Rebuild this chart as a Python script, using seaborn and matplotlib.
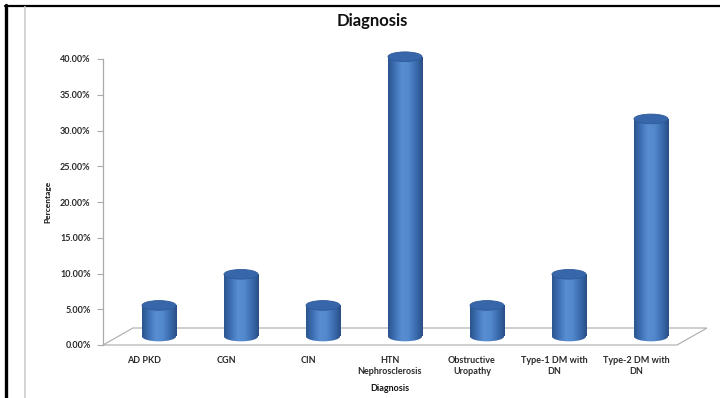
import numpy as np
import pandas as pd
import matplotlib
matplotlib.use("Agg")
import matplotlib.pyplot as plt
import matplotlib.transforms as mtrans
from matplotlib.patches import Ellipse, Polygon
from matplotlib.lines import Line2D
from matplotlib.colors import LinearSegmentedColormap
from matplotlib.ticker import PercentFormatter
import seaborn as sns

# Diagnosis categories and share of patients (%)
categories = ["AD PKD", "CGN", "CIN", "HTN\nNephrosclerosis",
              "Obstructive\nUropathy", "Type-1 DM with\nDN", "Type-2 DM with\nDN"]
percentages = [4.35, 8.70, 4.35, 39.13, 4.35, 8.70, 30.43]
y_ticks = [0, 5, 10, 15, 20, 25, 30, 35, 40]

sns.set_theme(style="white")
plt.rcParams["font.family"] = ["Lato", "DejaVu Sans"]

W, H = 720, 398
fig = plt.figure(figsize=(W / 100, H / 100), dpi=100)
fig.patch.set_facecolor("white")
ax = fig.add_axes([103 / W, 53 / H, 574 / W, 286 / H])

df = pd.DataFrame({"Diagnosis": categories, "Percentage": percentages})
bar_w = 0.415
sns.barplot(data=df, x="Diagnosis", y="Percentage", ax=ax, color="#4F81BD",
            width=bar_w, saturation=1, errorbar=None, zorder=3)
ax.set_xlim(-0.5, 6.5)
ax.set_ylim(0, 40)

# cylinders sit half-way back on the floor
shift = mtrans.offset_copy(ax.transData, fig=fig, x=15, y=8.5, units="dots")
body_cmap = LinearSegmentedColormap.from_list(
    "cyl", ["#2B558F", "#3F72B6", "#5A8ED2", "#5288CC", "#3C6DB0", "#2A4F86"])
grad = np.linspace(0, 1, 64).reshape(1, -1)
ell_h = 1.35

for patch in list(ax.patches):
    x0 = patch.get_x()
    w = patch.get_width()
    h = patch.get_height()
    cx = x0 + w / 2
    patch.set_transform(shift)
    patch.set_facecolor("none")
    patch.set_edgecolor("none")
    patch.set_clip_on(False)
    # cylinder body
    im = ax.imshow(grad, cmap=body_cmap, aspect="auto", extent=(x0, x0 + w, 0, h),
                   transform=shift, zorder=3, interpolation="bilinear")
    im.set_clip_box(None)
    im.set_clip_path(patch)
    # rounded base
    base = Ellipse((cx, 0), w, ell_h, transform=shift, facecolor="none",
                   edgecolor="none", zorder=3, clip_on=False)
    ax.add_patch(base)
    im2 = ax.imshow(grad, cmap=body_cmap, aspect="auto",
                    extent=(x0, x0 + w, -ell_h, ell_h), transform=shift,
                    zorder=3, interpolation="bilinear")
    im2.set_clip_box(None)
    im2.set_clip_path(base)
    # top cap
    ax.add_patch(Ellipse((cx, h), w, ell_h, transform=shift, facecolor="#3767AA",
                         edgecolor="#2E5A98", linewidth=0.6, zorder=4, clip_on=False))

ax.set_xlim(-0.5, 6.5)
ax.set_ylim(0, 40)

# floor of the 3-D plot area
front = ax.transData.transform([(-0.5, 0), (6.5, 0)])
back = front + np.array([30, 17])
floor = Polygon([front[0], front[1], back[1], back[0]], closed=True, fill=False,
                edgecolor="#B4B4B4", linewidth=0.9, transform=mtrans.IdentityTransform(),
                zorder=1, clip_on=False)
ax.add_patch(floor)

for side in ["top", "right", "bottom"]:
    ax.spines[side].set_visible(False)
ax.spines["left"].set_color("#AAAAAA")
ax.spines["left"].set_linewidth(0.9)

ax.set_yticks(y_ticks)
ax.yaxis.set_major_formatter(PercentFormatter(xmax=100, decimals=2))
ax.tick_params(axis="y", direction="out", length=4, width=0.8, color="#AAAAAA",
               labelsize=6.5, labelcolor="#2A2A2A", pad=5, left=True)
ax.tick_params(axis="x", length=0, labelsize=6.5, labelcolor="#2A2A2A", pad=8)
for lbl in ax.get_yticklabels() + ax.get_xticklabels():
    lbl.set_fontweight("bold")
for lbl in ax.get_xticklabels():
    lbl.set_linespacing(1.25)

ax.set_xlabel("Diagnosis", fontsize=6.5, fontweight="bold", color="#111111", labelpad=6)
ax.set_ylabel("Percentage", fontsize=6, fontweight="bold", color="#111111", labelpad=6)
ax.grid(False)

fig.text(372 / W, 1 - 21 / H, "Diagnosis", ha="center", va="center",
         fontsize=12, fontweight="bold", color="#111111")

# page borders around the chart
fig.add_artist(Line2D([6 / W, 6 / W], [0, 1 - 5 / H], color="black", linewidth=2.4))
fig.add_artist(Line2D([5 / W, 1], [1 - 5.5 / H, 1 - 5.5 / H], color="black", linewidth=1.6))
fig.add_artist(Line2D([25 / W, 25 / W], [0, 1 - 7 / H], color="#D4D4D4", linewidth=1.4))

fig.savefig("out.png", dpi=100, facecolor="white")
